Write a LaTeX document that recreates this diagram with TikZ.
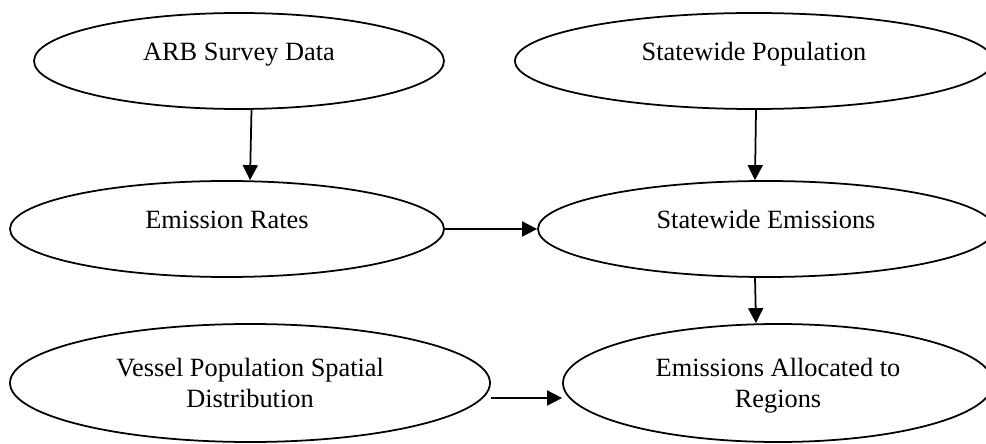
\documentclass[tikz,border=0pt]{standalone}
\usepackage{fontspec}
\setmainfont{Liberation Serif}
\usetikzlibrary{shapes.geometric,arrows.meta}

\begin{document}
\begin{tikzpicture}[->, >={Triangle[length=0.3cm,width=0.3cm]}, line width=1pt,
    bubble/.style = {draw, ellipse, inner sep=0pt, minimum height=1.92cm,
        font=\fontsize{15}{18.2}\selectfont, text height=8pt, text depth=8pt},
    bigbubble/.style = {bubble, minimum height=2.36cm, align=center,
        text height=28.45pt, text depth=0pt}]
    \useasboundingbox (0,0) rectangle (19.72,8.86);

    \node[bubble, minimum width=8.20cm] (ARB) at (4.78, 7.64) {ARB Survey Data};
    \node[bubble, minimum width=9.56cm] (Pop) at (15.08, 7.64) {Statewide Population};
    \node[bubble, minimum width=8.68cm] (Rates) at (4.54, 4.28) {Emission Rates};
    \node[bubble, minimum width=9.12cm] (StEm) at (15.32, 4.28) {Statewide Emissions};
    \node[bigbubble, minimum width=9.60cm] (Vessel) at (5.00, 1.20) {Vessel Population Spatial\\Distribution};
    \node[bigbubble, minimum width=8.60cm] (Alloc) at (15.56, 1.20) {Emissions Allocated to\\Regions};

    \draw ([xshift=0.25cm]ARB.south) -- ([xshift=0.46cm]Rates.north);
    \draw ([xshift=0.04cm]Pop.south) -- ([xshift=-0.22cm]StEm.north);
    \draw (Rates) -- (StEm);
    \draw ([xshift=-0.22cm]StEm.south) -- ([xshift=-0.44cm]Alloc.north);
    \draw ([yshift=-0.3cm]Vessel.east) -- ([yshift=-0.3cm]Alloc.west);
\end{tikzpicture}
\end{document}
